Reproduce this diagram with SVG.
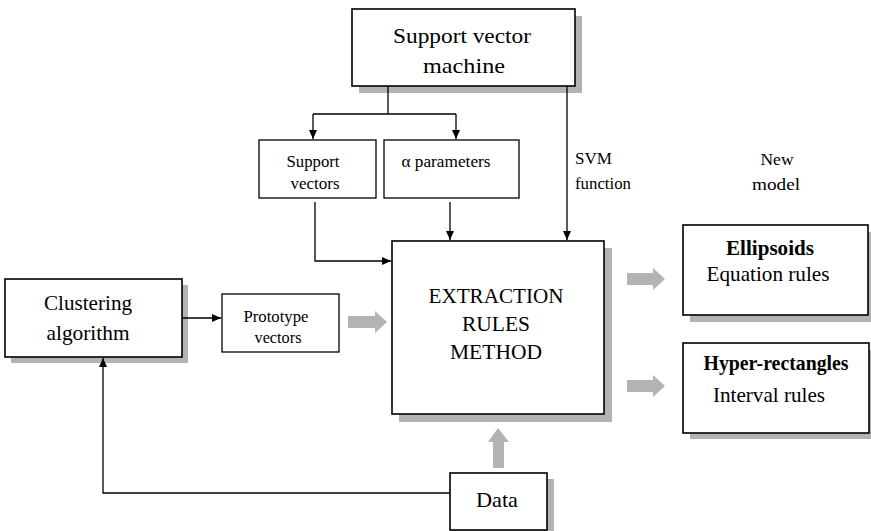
<svg xmlns="http://www.w3.org/2000/svg" width="871" height="531" viewBox="0 0 871 531">
  <defs>
    <marker id="ah" markerWidth="10" markerHeight="8" refX="9" refY="4" orient="auto" markerUnits="userSpaceOnUse">
      <path d="M0,0 L9,4 L0,8 Z" fill="#000"/>
    </marker>
    <style>
      .box { fill: #fff; stroke: #000; stroke-width: 1.6; }
      .sbox { fill: #fff; stroke: #000; stroke-width: 1.3; }
      .shadow { fill: #b3b3b3; }
      text { font-family: "Liberation Serif", "DejaVu Serif", serif; fill: #000; }
      .big { font-size: 21px; text-anchor: middle; }
      .small { font-size: 16.5px; text-anchor: middle; }
      .left { text-anchor: start; }
      .bold { font-weight: bold; }
      .wire { fill: none; stroke: #000; stroke-width: 1.3; }
      .block { fill: #b3b3b3; }
    </style>
  </defs>
  <rect width="871" height="531" fill="#fff"/>

  <!-- nodes -->
  <g id="svm">
    <rect class="shadow" x="359" y="16" width="223" height="77"/>
    <rect class="box" x="352" y="9" width="223" height="77"/>
    <text class="big" x="462" y="43" font-size="22" textLength="138" lengthAdjust="spacingAndGlyphs">Support vector</text>
    <text class="big" x="464" y="73" font-size="22" textLength="82" lengthAdjust="spacingAndGlyphs">machine</text>
  </g>

  <g id="support-vectors">
    <rect class="sbox" x="259" y="140" width="117" height="58"/>
    <text class="small" x="313" y="167" textLength="53" lengthAdjust="spacingAndGlyphs">Support</text>
    <text class="small" x="315" y="189" textLength="49" lengthAdjust="spacingAndGlyphs">vectors</text>
  </g>

  <g id="alpha-parameters">
    <rect class="sbox" x="384" y="140" width="135" height="58"/>
    <text class="small" x="446" y="167" textLength="89" lengthAdjust="spacingAndGlyphs">α parameters</text>
  </g>

  <g id="svm-function-label">
    <text class="small left" x="575" y="164" textLength="37" lengthAdjust="spacingAndGlyphs">SVM</text>
    <text class="small left" x="575" y="189" textLength="56" lengthAdjust="spacingAndGlyphs">function</text>
  </g>

  <g id="new-model-label">
    <text class="small" x="777" y="165" font-size="17.5" textLength="33" lengthAdjust="spacingAndGlyphs">New</text>
    <text class="small" x="776" y="190" font-size="18" textLength="48" lengthAdjust="spacingAndGlyphs">model</text>
  </g>

  <g id="clustering">
    <rect class="shadow" x="11" y="285" width="177" height="78"/>
    <rect class="box" x="5" y="279" width="177" height="78"/>
    <text class="big" x="88" y="310" textLength="88" lengthAdjust="spacingAndGlyphs">Clustering</text>
    <text class="big" x="88" y="340" textLength="83" lengthAdjust="spacingAndGlyphs">algorithm</text>
  </g>

  <g id="prototype-vectors">
    <rect class="sbox" x="222" y="294" width="117" height="58"/>
    <text class="small" x="276" y="322" textLength="65" lengthAdjust="spacingAndGlyphs">Prototype</text>
    <text class="small" x="278" y="343" textLength="47" lengthAdjust="spacingAndGlyphs">vectors</text>
  </g>

  <g id="extraction">
    <rect class="shadow" x="399" y="248" width="213" height="174"/>
    <rect class="box" x="392" y="241" width="212" height="173"/>
    <text class="big" x="496" y="303" textLength="135" lengthAdjust="spacingAndGlyphs">EXTRACTION</text>
    <text class="big" x="496" y="331" textLength="68" lengthAdjust="spacingAndGlyphs">RULES</text>
    <text class="big" x="496" y="359" textLength="92" lengthAdjust="spacingAndGlyphs">METHOD</text>
  </g>

  <g id="ellipsoids">
    <rect class="shadow" x="690" y="232" width="185" height="90"/>
    <rect class="box" x="683" y="225" width="185" height="90"/>
    <text class="big bold" x="770" y="255" textLength="88" lengthAdjust="spacingAndGlyphs">Ellipsoids</text>
    <text class="big" x="768" y="281" textLength="123" lengthAdjust="spacingAndGlyphs">Equation rules</text>
  </g>

  <g id="hyper-rectangles">
    <rect class="shadow" x="690" y="350" width="185" height="89"/>
    <rect class="box" x="683" y="343" width="186" height="90"/>
    <text class="big bold" x="776" y="370" font-size="19.5" textLength="145" lengthAdjust="spacingAndGlyphs">Hyper-rectangles</text>
    <text class="big" x="769" y="402" textLength="112" lengthAdjust="spacingAndGlyphs">Interval rules</text>
  </g>

  <g id="data">
    <rect class="shadow" x="454" y="479" width="100" height="60"/>
    <rect class="box" x="450" y="473" width="97" height="57"/>
    <text class="big" x="497" y="507" font-size="22" textLength="42" lengthAdjust="spacingAndGlyphs">Data</text>
  </g>

  <!-- connectors -->
  <g id="connectors">
    <path class="wire" d="M388,86 V114 M313,114 H456"/>
    <path class="wire" d="M313,114 V139" marker-end="url(#ah)"/>
    <path class="wire" d="M456,114 V139" marker-end="url(#ah)"/>
    <path class="wire" d="M567,86 V240" marker-end="url(#ah)"/>
    <path class="wire" d="M315,202 V261 H391" marker-end="url(#ah)"/>
    <path class="wire" d="M450,202 V240" marker-end="url(#ah)"/>
    <path class="wire" d="M182,318 H221" marker-end="url(#ah)"/>
    <path class="wire" d="M450,493 H103 V358" marker-end="url(#ah)"/>

    <!-- wide grey flow arrows -->
    <path class="block" d="M348,316 H375 V311 L387,322 L375,333 V328 H348 Z"/>
    <path class="block" d="M627,273 H653 V268 L665,279 L653,290 V285 H627 Z"/>
    <path class="block" d="M627,380 H653 V375 L665,386 L653,397 V392 H627 Z"/>
    <path class="block" d="M493,468 V442 H488 L498,428 L509,442 H504 V468 Z"/>
  </g>
</svg>
